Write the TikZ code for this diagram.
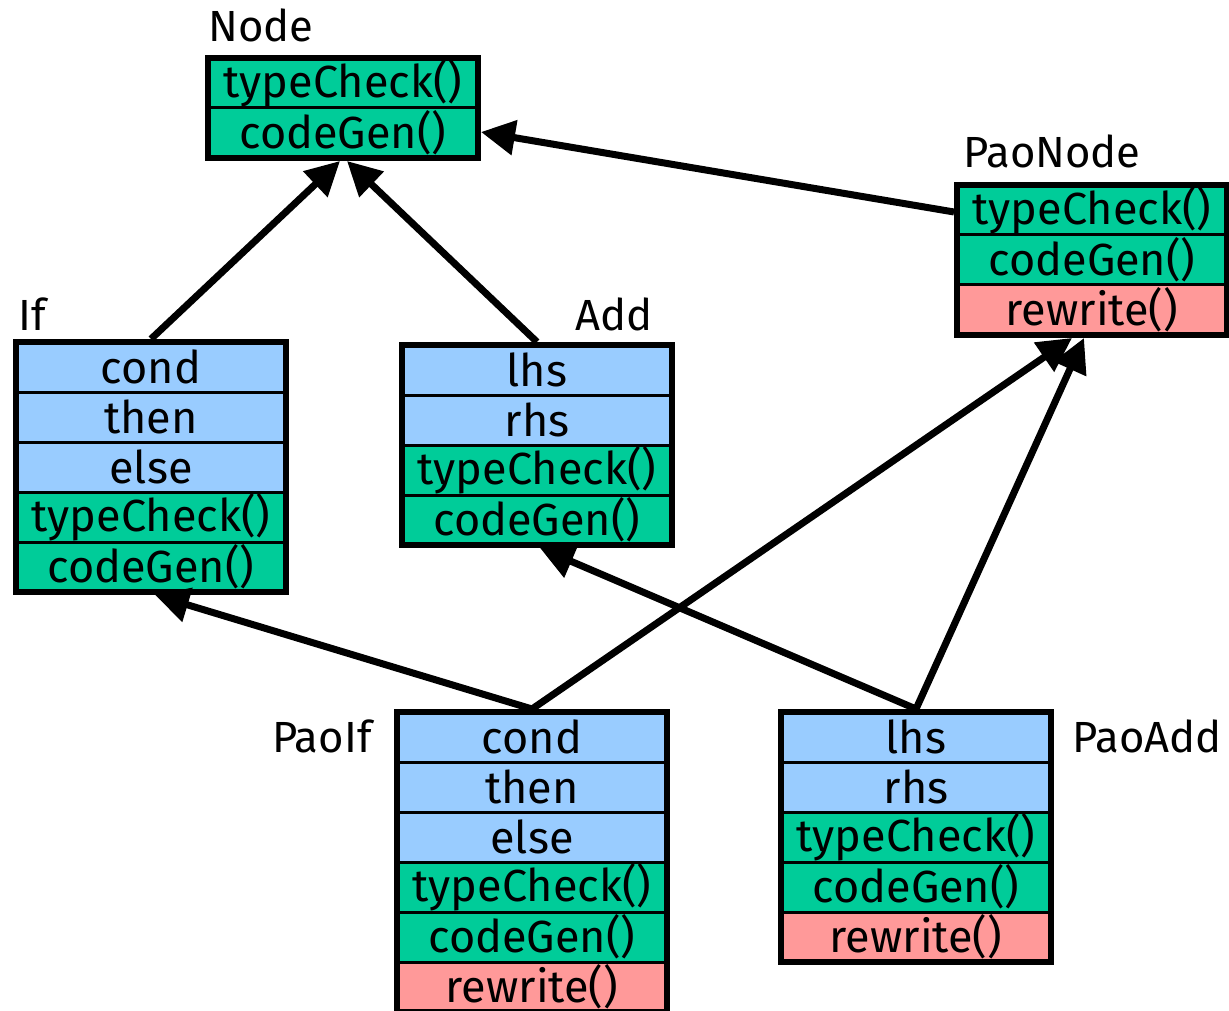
\documentclass[tikz,border=0pt]{standalone}
\usepackage{fontspec}
\setmainfont{Fira Sans}
\usetikzlibrary{arrows.meta, positioning, fit}
\definecolor{fieldblue}{RGB}{153,204,255}
\definecolor{methgreen}{RGB}{0,204,153}
\definecolor{newpink}{RGB}{255,153,153}
\tikzset{
>={Triangle[length=17pt,width=17pt]}, % big filled heads
row/.style={draw, line width=1.5pt, minimum width=135pt, minimum height=25pt,
  inner sep=0pt, outer sep=0pt, font=\fontsize{22.5}{26}\selectfont},
field/.style={row, fill=fieldblue},
meth/.style={row, fill=methgreen},
redo/.style={row, fill=newpink},
frame/.style={draw, line width=3pt, inner sep=0pt},
cname/.style={font=\fontsize{21.8}{26}\selectfont, inner sep=0pt},
inherit/.style={->, line width=3.5pt},
}

\begin{document}
\begin{tikzpicture}[x=0.5pt, y=-0.5pt]
  \useasboundingbox (0,0) rectangle (1229,1010);

  % Node
  \node[meth] (n1) at (343,83) {typeCheck()};
  \node[meth, below=0pt of n1] (n2) {codeGen()};
  \node[frame, fit=(n1)(n2)] (Node) {};
  \node[cname, anchor=base west] at (208,42) {Node};

  % PaoNode
  \node[meth] (pn1) at (1092,210) {typeCheck()};
  \node[meth, below=0pt of pn1] (pn2) {codeGen()};
  \node[redo, below=0pt of pn2] (pn3) {rewrite()};
  \node[frame, fit=(pn1)(pn3)] (PaoNode) {};
  \node[cname, anchor=base west] at (963,168) {PaoNode};

  % If
  \node[field] (i1) at (151,367) {cond};
  \node[field, below=0pt of i1] (i2) {then};
  \node[field, below=0pt of i2] (i3) {else};
  \node[meth, below=0pt of i3] (i4) {typeCheck()};
  \node[meth, below=0pt of i4] (i5) {codeGen()};
  \node[frame, fit=(i1)(i5)] (If) {};
  \node[cname, anchor=base west] at (18,330) {If};

  % Add
  \node[field] (a1) at (537,370) {lhs};
  \node[field, below=0pt of a1] (a2) {rhs};
  \node[meth, below=0pt of a2] (a3) {typeCheck()};
  \node[meth, below=0pt of a3] (a4) {codeGen()};
  \node[frame, fit=(a1)(a4)] (Add) {};
  \node[cname, anchor=base east] at (653,330) {Add};

  % PaoIf
  \node[field] (pi1) at (532,737) {cond};
  \node[field, below=0pt of pi1] (pi2) {then};
  \node[field, below=0pt of pi2] (pi3) {else};
  \node[meth, below=0pt of pi3] (pi4) {typeCheck()};
  \node[meth, below=0pt of pi4] (pi5) {codeGen()};
  \node[redo, below=0pt of pi5] (pi6) {rewrite()};
  \node[frame, fit=(pi1)(pi6)] (PaoIf) {};
  \node[cname, anchor=base east] at (372,752) {PaoIf};

  % PaoAdd
  \node[field] (pa1) at (916,737) {lhs};
  \node[field, below=0pt of pa1] (pa2) {rhs};
  \node[meth, below=0pt of pa2] (pa3) {typeCheck()};
  \node[meth, below=0pt of pa3] (pa4) {codeGen()};
  \node[redo, below=0pt of pa4] (pa5) {rewrite()};
  \node[frame, fit=(pa1)(pa5)] (PaoAdd) {};
  \node[cname, anchor=base west] at (1072,752) {PaoAdd};

  % inheritance arrows
  \draw[inherit] (If.north) -- ([xshift=-1.5pt]Node.south);
  \draw[inherit] (Add.north) -- ([xshift=2pt]Node.south);
  \draw[inherit] ([yshift=24pt]PaoNode.west) -- ([yshift=-12pt]Node.east);
  \draw[inherit] (PaoIf.north) -- ([xshift=2pt]If.south);
  \draw[inherit] (PaoIf.north) -- ([xshift=-10pt]PaoNode.south);
  \draw[inherit] (PaoAdd.north) -- ([xshift=1.5pt]Add.south);
  \draw[inherit] (PaoAdd.north) -- ([xshift=-4pt]PaoNode.south);
\end{tikzpicture}
\end{document}
